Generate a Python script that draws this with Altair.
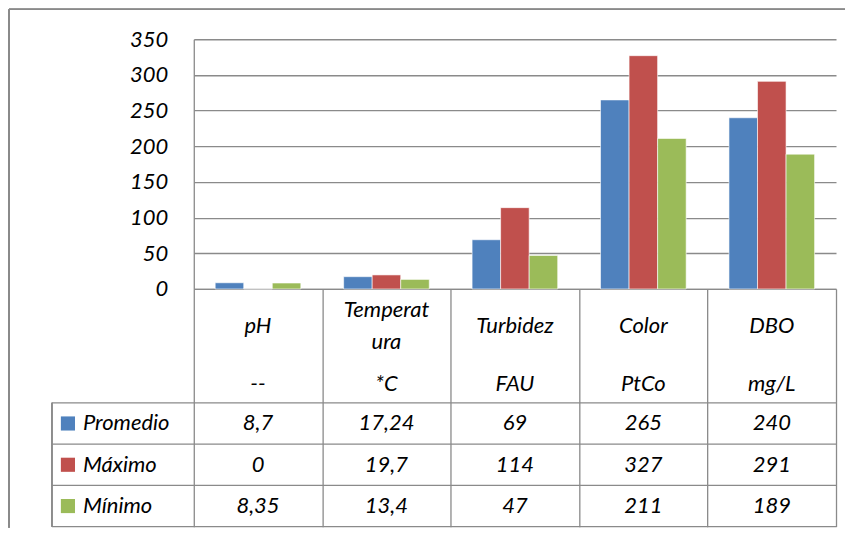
import altair as alt
import pandas as pd

categories = ["pH", "Temperatura", "Turbidez", "Color", "DBO"]
category_labels = ["pH", "Temperat\nura", "Turbidez", "Color", "DBO"]
units = ["--", "*C", "FAU", "PtCo", "mg/L"]
series = ["Promedio", "Máximo", "Mínimo"]
promedio = [8.7, 17.24, 69, 265, 240]
maximo = [0, 19.7, 114, 327, 291]
minimo = [8.35, 13.4, 47, 211, 189]
colors = ["#4F81BD", "#C0504D", "#9BBB59"]
y_ticks = [0, 50, 100, 150, 200, 250, 300, 350]


def fmt(v):
    if float(v).is_integer():
        return str(int(v))
    return str(v).replace(".", ",")


rows = []
for s, vals in zip(series, [promedio, maximo, minimo]):
    for c, v in zip(categories, vals):
        rows.append({"cat": c, "series": s, "value": v, "text": fmt(v)})
df = pd.DataFrame(rows)
head_df = pd.DataFrame({"cat": categories, "label": category_labels, "unit": units})
head_df["multi"] = head_df["label"].str.contains("\n")
ser_df = pd.DataFrame({"series": series})

W, H = 643, 250
FONT = "Lato"
FS = 22
GRAY = "#8a8a8a"

xs = alt.Scale(domain=categories, paddingInner=0, paddingOuter=0)
x_enc = alt.X(
    "cat:N",
    scale=xs,
    sort=categories,
    axis=alt.Axis(
        title=None,
        labels=False,
        tickBand="extent",
        tickSize=238,
        tickColor=GRAY,
        tickWidth=1.3,
        domainColor=GRAY,
        domainWidth=1.3,
        grid=False,
    ),
)
row_scale = alt.Scale(type="band", domain=series, range=[364, 488], paddingInner=0, paddingOuter=0)
color_enc = alt.Color("series:N", scale=alt.Scale(domain=series, range=colors), legend=None)

bars = alt.Chart(df).mark_bar(stroke="white", strokeOpacity=0.6, strokeWidth=1).encode(
    x=x_enc,
    xOffset=alt.XOffset("series:N", scale=alt.Scale(domain=series, paddingInner=0, paddingOuter=0.75), sort=series),
    y=alt.Y(
        "value:Q",
        scale=alt.Scale(domain=[0, 350], nice=False),
        axis=alt.Axis(
            title=None,
            values=y_ticks,
            ticks=False,
            tickSize=0,
            labelPadding=26,
            labelFont=FONT,
            labelFontStyle="italic",
            labelFontSize=FS,
            labelColor="black",
            gridColor=GRAY,
            gridWidth=1.3,
            domainColor=GRAY,
            domainWidth=1.3,
        ),
    ),
    color=color_enc,
)

txt = dict(font=FONT, fontStyle="italic", fontSize=FS, color="black", baseline="middle")

header_single = alt.Chart(head_df).transform_filter("!datum.multi").mark_text(**txt).encode(
    x=x_enc, y=alt.value(287), text="label:N"
)
header_multi = alt.Chart(head_df).transform_filter("datum.multi").mark_text(
    lineBreak="\n", lineHeight=32, **txt
).encode(
    x=x_enc, y=alt.value(271), text="label:N"
)
unit_row = alt.Chart(head_df).mark_text(**txt).encode(
    x=x_enc, y=alt.value(345), text="unit:N"
)
values = alt.Chart(df).mark_text(**txt).encode(
    x=x_enc, y=alt.Y("series:N", scale=row_scale, axis=None, sort=series), text="text:N"
)
row_lines = alt.Chart(ser_df).mark_rule(color=GRAY, strokeWidth=1.3).encode(
    y=alt.Y("series:N", scale=row_scale, axis=None, sort=series, bandPosition=0),
    x=alt.value(-142),
    x2=alt.value(W),
)
bottom_line = alt.Chart(ser_df[ser_df.series == series[-1]]).mark_rule(color=GRAY, strokeWidth=1.3).encode(
    y=alt.Y("series:N", scale=row_scale, axis=None, sort=series, bandPosition=1),
    x=alt.value(-142),
    x2=alt.value(W),
)
legend_left = alt.Chart(ser_df).mark_rule(color=GRAY, strokeWidth=1.3).encode(
    x=alt.value(-142), y=alt.value(364), y2=alt.value(488)
)
legend_sq = alt.Chart(ser_df).mark_square(size=200, opacity=1).encode(
    x=alt.value(-126),
    y=alt.Y("series:N", scale=row_scale, axis=None, sort=series),
    color=color_enc,
)
legend_txt = alt.Chart(ser_df).mark_text(align="left", **txt).encode(
    x=alt.value(-111),
    y=alt.Y("series:N", scale=row_scale, axis=None, sort=series),
    text="series:N",
)
frame_left = alt.Chart(ser_df).mark_rule(color=GRAY, strokeWidth=1.6).encode(
    x=alt.value(-185), y=alt.value(-30), y2=alt.value(489)
)
frame_top = alt.Chart(ser_df).mark_rule(color=GRAY, strokeWidth=1.6).encode(
    y=alt.value(-30), x=alt.value(-185), x2=alt.value(652)
)

chart = (
    alt.layer(
        frame_left, frame_top, bars, header_single, header_multi, unit_row, row_lines, bottom_line,
        legend_left, values, legend_sq, legend_txt,
    )
    .resolve_scale(y="independent")
    .properties(width=W, height=H, padding=0)
    .configure_view(strokeWidth=0)
)

chart.save("out.html", embed_options={"renderer": "svg", "actions": False})
